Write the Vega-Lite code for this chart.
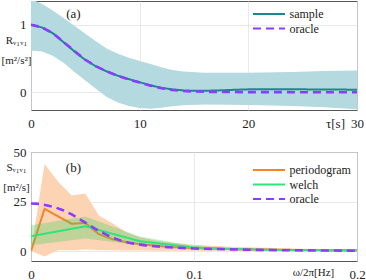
{
  "$schema": "https://vega.github.io/schema/vega-lite/v6.json",
  "padding": 0,
  "background": "white",
  "spacing": 42,
  "bounds": "flush",
  "config": {
    "font": "'Liberation Serif', 'Times New Roman', serif",
    "view": {"stroke": "#555555", "strokeWidth": 1},
    "axis": {"domain": false, "ticks": false, "grid": true, "gridColor": "#e3e3e3", "gridWidth": 0.8,
      "labelFont": "'Liberation Serif', 'Times New Roman', serif", "labelFontSize": 13, "labelColor": "#222222",
      "titleFont": "'Liberation Serif', 'Times New Roman', serif", "titleFontWeight": "normal", "titleColor": "#222222", "titleFontSize": 12,
      "labelFlush": false, "labelOverlap": false},
    "legend": {"orient": "none", "labelFont": "'Liberation Serif', 'Times New Roman', serif", "labelFontSize": 12, "labelColor": "#222222",
      "symbolType": "stroke", "symbolSize": 1024, "symbolStrokeWidth": 2.2, "padding": 0, "rowPadding": 2.5,
      "labelOffset": 3, "clipHeight": 12}
  },
  "resolve": {"scale": {"color": "independent", "strokeDash": "independent"}},
  "datasets": {
    "bandA": [
      {"tau": 0, "lo": 0.62, "hi": 1.38}, {"tau": 1, "lo": 0.605, "hi": 1.31}, {"tau": 2, "lo": 0.54, "hi": 1.21},
      {"tau": 3, "lo": 0.437, "hi": 1.1}, {"tau": 4, "lo": 0.3, "hi": 0.985}, {"tau": 5, "lo": 0.175, "hi": 0.865},
      {"tau": 6, "lo": 0.05, "hi": 0.75}, {"tau": 7, "lo": -0.07, "hi": 0.645}, {"tau": 8, "lo": -0.15, "hi": 0.57},
      {"tau": 9, "lo": -0.2, "hi": 0.51}, {"tau": 10, "lo": -0.23, "hi": 0.465}, {"tau": 11, "lo": -0.24, "hi": 0.42},
      {"tau": 12, "lo": -0.225, "hi": 0.37}, {"tau": 13, "lo": -0.205, "hi": 0.33}, {"tau": 14, "lo": -0.19, "hi": 0.31},
      {"tau": 16, "lo": -0.18, "hi": 0.29}, {"tau": 20, "lo": -0.185, "hi": 0.29}, {"tau": 24, "lo": -0.2, "hi": 0.3},
      {"tau": 27, "lo": -0.22, "hi": 0.315}, {"tau": 30, "lo": -0.25, "hi": 0.325}
    ],
    "linesA": [
      {"series": "sample", "tau": 0, "R": 1.0}, {"series": "sample", "tau": 1, "R": 0.96}, {"series": "sample", "tau": 2, "R": 0.875},
      {"series": "sample", "tau": 3, "R": 0.74}, {"series": "sample", "tau": 4, "R": 0.605}, {"series": "sample", "tau": 5, "R": 0.478},
      {"series": "sample", "tau": 6, "R": 0.383}, {"series": "sample", "tau": 7, "R": 0.307}, {"series": "sample", "tau": 8, "R": 0.246},
      {"series": "sample", "tau": 9, "R": 0.196}, {"series": "sample", "tau": 10, "R": 0.15}, {"series": "sample", "tau": 11, "R": 0.105},
      {"series": "sample", "tau": 12, "R": 0.068}, {"series": "sample", "tau": 13, "R": 0.045}, {"series": "sample", "tau": 14, "R": 0.03},
      {"series": "sample", "tau": 15, "R": 0.024}, {"series": "sample", "tau": 16, "R": 0.024}, {"series": "sample", "tau": 17, "R": 0.028},
      {"series": "sample", "tau": 18, "R": 0.034}, {"series": "sample", "tau": 19, "R": 0.04}, {"series": "sample", "tau": 20, "R": 0.045},
      {"series": "sample", "tau": 22, "R": 0.048}, {"series": "sample", "tau": 24, "R": 0.046}, {"series": "sample", "tau": 26, "R": 0.044},
      {"series": "sample", "tau": 28, "R": 0.042}, {"series": "sample", "tau": 30, "R": 0.04},
      {"series": "oracle", "tau": 0, "R": 1.0}, {"series": "oracle", "tau": 1, "R": 0.96}, {"series": "oracle", "tau": 2, "R": 0.877},
      {"series": "oracle", "tau": 3, "R": 0.745}, {"series": "oracle", "tau": 4, "R": 0.61}, {"series": "oracle", "tau": 5, "R": 0.482},
      {"series": "oracle", "tau": 6, "R": 0.385}, {"series": "oracle", "tau": 7, "R": 0.308}, {"series": "oracle", "tau": 8, "R": 0.245},
      {"series": "oracle", "tau": 9, "R": 0.192}, {"series": "oracle", "tau": 10, "R": 0.145}, {"series": "oracle", "tau": 11, "R": 0.1},
      {"series": "oracle", "tau": 12, "R": 0.062}, {"series": "oracle", "tau": 13, "R": 0.036}, {"series": "oracle", "tau": 14, "R": 0.021},
      {"series": "oracle", "tau": 15, "R": 0.013}, {"series": "oracle", "tau": 16, "R": 0.009}, {"series": "oracle", "tau": 18, "R": 0.006},
      {"series": "oracle", "tau": 20, "R": 0.004}, {"series": "oracle", "tau": 25, "R": 0.003}, {"series": "oracle", "tau": 30, "R": 0.003}
    ],
    "bandP": [
      {"f": 0, "lo": 0, "hi": 0}, {"f": 0.00833, "lo": -2.7, "hi": 44}, {"f": 0.01667, "lo": 0.6, "hi": 35},
      {"f": 0.025, "lo": 0.4, "hi": 28}, {"f": 0.03333, "lo": 0.8, "hi": 29}, {"f": 0.04167, "lo": 0.5, "hi": 18},
      {"f": 0.05, "lo": 0.4, "hi": 14}, {"f": 0.05833, "lo": 0.3, "hi": 9.5}, {"f": 0.06667, "lo": 0.3, "hi": 7},
      {"f": 0.075, "lo": 0.2, "hi": 5.5}, {"f": 0.08333, "lo": 0.2, "hi": 4.5}, {"f": 0.09167, "lo": 0.2, "hi": 3.8},
      {"f": 0.1, "lo": 0.15, "hi": 3.2}, {"f": 0.10833, "lo": 0.15, "hi": 2.8}, {"f": 0.11667, "lo": 0.12, "hi": 2.4},
      {"f": 0.125, "lo": 0.12, "hi": 2.1}, {"f": 0.13333, "lo": 0.1, "hi": 1.9}, {"f": 0.15, "lo": 0.1, "hi": 1.5},
      {"f": 0.16667, "lo": 0.1, "hi": 1.2}, {"f": 0.18333, "lo": 0.1, "hi": 1.0}, {"f": 0.2, "lo": 0.1, "hi": 0.9}
    ],
    "lineP": [
      {"series": "periodogram", "f": 0, "S": 0}, {"series": "periodogram", "f": 0.00833, "S": 21.3}, {"series": "periodogram", "f": 0.01667, "S": 17.5},
      {"series": "periodogram", "f": 0.025, "S": 13.8}, {"series": "periodogram", "f": 0.03333, "S": 14.2}, {"series": "periodogram", "f": 0.04167, "S": 8.5},
      {"series": "periodogram", "f": 0.05, "S": 6.0}, {"series": "periodogram", "f": 0.05833, "S": 4.5}, {"series": "periodogram", "f": 0.06667, "S": 3.5},
      {"series": "periodogram", "f": 0.075, "S": 2.8}, {"series": "periodogram", "f": 0.08333, "S": 2.2}, {"series": "periodogram", "f": 0.09167, "S": 1.8},
      {"series": "periodogram", "f": 0.1, "S": 1.5}, {"series": "periodogram", "f": 0.10833, "S": 1.3}, {"series": "periodogram", "f": 0.11667, "S": 1.1},
      {"series": "periodogram", "f": 0.125, "S": 1.0}, {"series": "periodogram", "f": 0.13333, "S": 0.9}, {"series": "periodogram", "f": 0.15, "S": 0.7},
      {"series": "periodogram", "f": 0.16667, "S": 0.55}, {"series": "periodogram", "f": 0.18333, "S": 0.45}, {"series": "periodogram", "f": 0.2, "S": 0.4}
    ],
    "bandW": [
      {"f": 0, "lo": 3, "hi": 13}, {"f": 0.03333, "lo": 6.3, "hi": 17.5}, {"f": 0.06667, "lo": 3, "hi": 7.3},
      {"f": 0.1, "lo": 1.2, "hi": 2.6}, {"f": 0.13333, "lo": 0.5, "hi": 1.1}, {"f": 0.16667, "lo": 0.3, "hi": 0.6},
      {"f": 0.2, "lo": 0.2, "hi": 0.4}
    ],
    "lineW": [
      {"series": "welch", "f": 0, "S": 7.5}, {"series": "welch", "f": 0.03333, "S": 12.5}, {"series": "welch", "f": 0.06667, "S": 5.0},
      {"series": "welch", "f": 0.1, "S": 1.8}, {"series": "welch", "f": 0.13333, "S": 0.8}, {"series": "welch", "f": 0.16667, "S": 0.4},
      {"series": "welch", "f": 0.2, "S": 0.3}
    ],
    "lineO": [
      {"series": "oracle", "f": 0, "S": 24}, {"series": "oracle", "f": 0.005, "S": 23.8}, {"series": "oracle", "f": 0.01, "S": 23},
      {"series": "oracle", "f": 0.015, "S": 22}, {"series": "oracle", "f": 0.02, "S": 20.5}, {"series": "oracle", "f": 0.025, "S": 18.5},
      {"series": "oracle", "f": 0.03, "S": 16}, {"series": "oracle", "f": 0.035, "S": 13.5}, {"series": "oracle", "f": 0.04, "S": 11},
      {"series": "oracle", "f": 0.045, "S": 8.8}, {"series": "oracle", "f": 0.05, "S": 6.8}, {"series": "oracle", "f": 0.055, "S": 5.3},
      {"series": "oracle", "f": 0.06, "S": 4.2}, {"series": "oracle", "f": 0.07, "S": 2.9}, {"series": "oracle", "f": 0.08, "S": 2.2},
      {"series": "oracle", "f": 0.09, "S": 1.7}, {"series": "oracle", "f": 0.1, "S": 1.3}, {"series": "oracle", "f": 0.12, "S": 0.9},
      {"series": "oracle", "f": 0.14, "S": 0.6}, {"series": "oracle", "f": 0.16, "S": 0.4}, {"series": "oracle", "f": 0.18, "S": 0.3},
      {"series": "oracle", "f": 0.2, "S": 0.2}
    ]
  },
  "vconcat": [
    {
      "width": 326,
      "height": 109,
      "encoding": {
        "x": {"type": "quantitative", "scale": {"domain": [0, 30], "nice": false, "zero": false},
          "axis": {"values": [0, 10, 20, 30], "labelPadding": 7, "title": "τ[s]", "titleX": 304, "titleY": 13, "titleBaseline": "middle", "titleAlign": "center", "titleFontSize": 13}},
        "y": {"type": "quantitative", "scale": {"domain": [-0.26, 1.35], "nice": false, "zero": false},
          "axis": {"values": [0, 1], "labelPadding": 5, "title": ["Rᵥ₁ᵥ₁", "[m²/s²]"], "titleAngle": 0, "titleAlign": "center", "titleBaseline": "top", "titleX": -15, "titleY": 33, "titleLineHeight": 20, "titleFontSize": 11}}
      },
      "layer": [
        {"data": {"name": "bandA"}, "mark": {"type": "area", "clip": true, "color": "#b4d9df", "opacity": 1},
          "encoding": {"x": {"field": "tau", "type": "quantitative"}, "y": {"field": "lo", "type": "quantitative"}, "y2": {"field": "hi"}}},
        {"data": {"name": "linesA"}, "transform": [{"filter": "datum.series == 'sample'"}],
          "mark": {"type": "line", "clip": true, "strokeWidth": 2},
          "encoding": {"x": {"field": "tau", "type": "quantitative"}, "y": {"field": "R", "type": "quantitative"},
            "color": {"field": "series", "type": "nominal", "scale": {"domain": ["sample", "oracle"], "range": ["#178a8e", "#8c3cff"]}, "legend": {"title": null, "legendX": 220.5, "legendY": 7}},
            "strokeDash": {"field": "series", "type": "nominal", "scale": {"domain": ["sample", "oracle"], "range": [[1, 0], [8, 5]]}, "legend": {"title": null, "legendX": 220.5, "legendY": 7}}}},
        {"data": {"name": "linesA"}, "transform": [{"filter": "datum.series == 'oracle'"}],
          "mark": {"type": "line", "clip": true, "strokeWidth": 2.6},
          "encoding": {"x": {"field": "tau", "type": "quantitative"}, "y": {"field": "R", "type": "quantitative"},
            "color": {"field": "series", "type": "nominal"},
            "strokeDash": {"field": "series", "type": "nominal"}}},
        {"data": {"values": [{"label": "(a)"}]},
          "mark": {"type": "text", "fontSize": 13, "color": "#222222", "font": "'Liberation Serif', 'Times New Roman', serif"},
          "encoding": {"x": {"datum": 3.9, "type": "quantitative"}, "y": {"datum": 1.157, "type": "quantitative"}, "text": {"field": "label"}}}
      ]
    },
    {
      "width": 326,
      "height": 109,
      "encoding": {
        "x": {"type": "quantitative", "scale": {"domain": [0, 0.2], "nice": false, "zero": false},
          "axis": {"values": [0, 0.1, 0.2], "format": "~g", "labelPadding": 7, "title": "ω/2π[Hz]", "titleX": 282, "titleY": 11, "titleBaseline": "middle", "titleAlign": "center", "titleFontSize": 11}},
        "y": {"type": "quantitative", "scale": {"domain": [-5, 50], "nice": false, "zero": false},
          "axis": {"values": [0, 25, 50], "labelPadding": 5, "title": ["Sᵥ₁ᵥ₁", "[m²/s]"], "titleAngle": 0, "titleAlign": "center", "titleBaseline": "top", "titleX": -15, "titleY": 9, "titleLineHeight": 20, "titleFontSize": 11}}
      },
      "layer": [
        {"data": {"name": "bandP"}, "mark": {"type": "area", "clip": true, "color": "#fcd4b4", "opacity": 1},
          "encoding": {"x": {"field": "f", "type": "quantitative"}, "y": {"field": "lo", "type": "quantitative"}, "y2": {"field": "hi"}}},
        {"data": {"name": "lineP"},
          "mark": {"type": "line", "clip": true, "strokeWidth": 2},
          "encoding": {"x": {"field": "f", "type": "quantitative"}, "y": {"field": "S", "type": "quantitative"},
            "color": {"field": "series", "type": "nominal", "scale": {"domain": ["periodogram", "welch", "oracle"], "range": ["#f5832a", "#2ee57a", "#8c3cff"]}, "legend": {"title": null, "legendX": 220.5, "legendY": 12}},
            "strokeDash": {"field": "series", "type": "nominal", "scale": {"domain": ["periodogram", "welch", "oracle"], "range": [[1, 0], [1, 0], [8, 5]]}, "legend": {"title": null, "legendX": 220.5, "legendY": 12}}}},
        {"data": {"name": "bandW"}, "mark": {"type": "area", "clip": true, "color": "#33cc55", "opacity": 0.3},
          "encoding": {"x": {"field": "f", "type": "quantitative"}, "y": {"field": "lo", "type": "quantitative"}, "y2": {"field": "hi"}}},
        {"data": {"name": "lineW"},
          "mark": {"type": "line", "clip": true, "strokeWidth": 2},
          "encoding": {"x": {"field": "f", "type": "quantitative"}, "y": {"field": "S", "type": "quantitative"},
            "color": {"field": "series", "type": "nominal"},
            "strokeDash": {"field": "series", "type": "nominal"}}},
        {"data": {"name": "lineO"},
          "mark": {"type": "line", "clip": true, "strokeWidth": 2.6},
          "encoding": {"x": {"field": "f", "type": "quantitative"}, "y": {"field": "S", "type": "quantitative"},
            "color": {"field": "series", "type": "nominal"},
            "strokeDash": {"field": "series", "type": "nominal"}}},
        {"data": {"values": [{"label": "(b)"}]},
          "mark": {"type": "text", "fontSize": 13, "color": "#222222", "font": "'Liberation Serif', 'Times New Roman', serif"},
          "encoding": {"x": {"datum": 0.026, "type": "quantitative"}, "y": {"datum": 42, "type": "quantitative"}, "text": {"field": "label"}}}
      ]
    }
  ]
}
